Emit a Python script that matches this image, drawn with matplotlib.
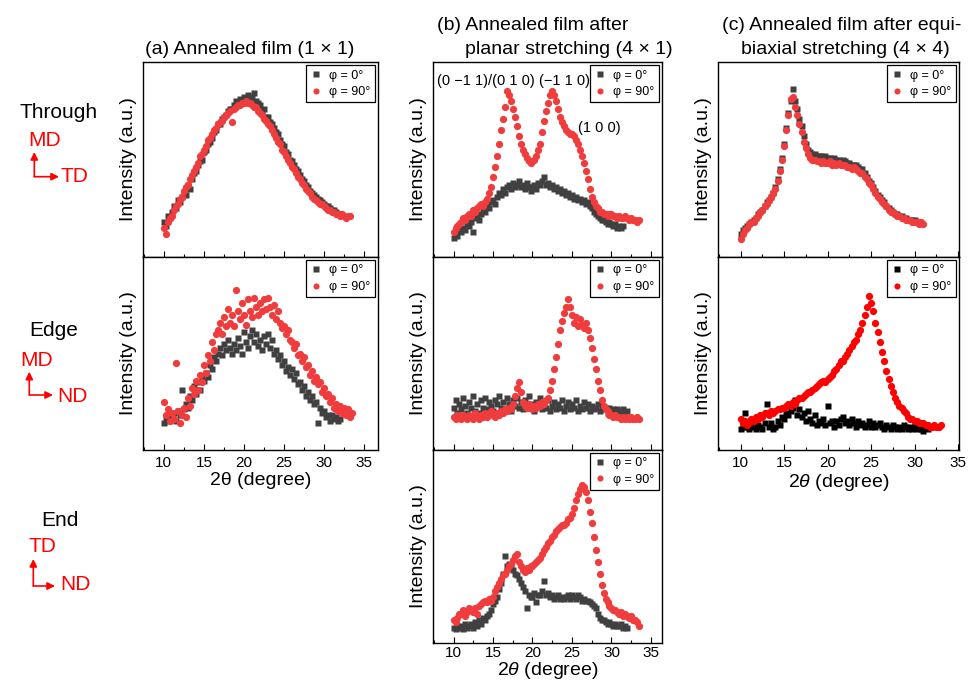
import matplotlib
matplotlib.use("Agg")
import matplotlib.pyplot as plt
from matplotlib.ticker import MultipleLocator

plt.rcParams['font.family'] = ['Liberation Sans', 'DejaVu Sans']
plt.rcParams['mathtext.fontset'] = 'custom'
plt.rcParams['mathtext.rm'] = 'Liberation Sans'
plt.rcParams['mathtext.it'] = 'Liberation Sans:italic'

# 2theta grid (degree), shared by all scans
two_theta = [10.0, 10.25, 10.5, 10.75, 11.0, 11.25, 11.5, 11.75, 12.0, 12.25, 12.5, 12.75,
             13.0, 13.25, 13.5, 13.75, 14.0, 14.25, 14.5, 14.75, 15.0, 15.25, 15.5, 15.75,
             16.0, 16.25, 16.5, 16.75, 17.0, 17.25, 17.5, 17.75, 18.0, 18.25, 18.5, 18.75,
             19.0, 19.25, 19.5, 19.75, 20.0, 20.25, 20.5, 20.75, 21.0, 21.25, 21.5, 21.75,
             22.0, 22.25, 22.5, 22.75, 23.0, 23.25, 23.5, 23.75, 24.0, 24.25, 24.5, 24.75,
             25.0, 25.25, 25.5, 25.75, 26.0, 26.25, 26.5, 26.75, 27.0, 27.25, 27.5, 27.75,
             28.0, 28.25, 28.5, 28.75, 29.0, 29.25, 29.5, 29.75, 30.0, 30.25, 30.5, 30.75,
             31.0, 31.25, 31.5, 31.75, 32.0, 32.25, 32.5, 32.75, 33.0, 33.25, 33.5, 33.75]

# (a) annealed film, through view
a1_phi0 = [18, 16, 21, 20, 23, 26, 25, 29, 28, 31, 33, 32, 37, 35, 40, 43, 44, 47, 49, 50,
           54, 55, 58, 59, 61, 64, 65, 68, 68, 71, 72, 73, 75, 76, 76, 78, 80, 79, 81, 80,
           82, 81, 83, 80, 82, 84, 80, 79, 78, 75, 76, 72, 72, 69, 68, 66, 64, 63, 60, 58,
           57, 54, 53, 50, 49, 47, 45, 44, 42, 40, 39, 37, 36, 34, 33, 32, 31, 30, 29, 28,
           27, 26, 26, 25, 24, 24, 23, 22, 22]
a1_phi90 = [15, 12, 18, 20, 21, 24, 26, 27, 30, 31, 34, 36, 37, 40, 42, 44, 46, 48, 52, 53,
            55, 57, 60, 61, 63, 65, 66, 68, 69, 70, 72, 73, 74, 75, 69, 76, 77, 78, 78, 79,
            79, 80, 79, 79, 78, 77, 77, 75, 74, 73, 71, 70, 68, 67, 65, 63, 61, 59, 58, 55,
            54, 52, 50, 48, 46, 45, 43, 41, 40, 38, 37, 35, 34, 33, 31, 30, 29, 28, 27, 27,
            26, 25, 24, 24, 23, 23, 22, 22, 21, 22, 21, 20, 21, 21]
# (a) edge view
a2_phi0 = [14, 16, 15, 18, 16, 19, 15, 20, 18, 31, 21, 24, 22, 28, 26, 33, 29, 35, 31, 38,
           36, 40, 38, 44, 42, 48, 46, 50, 53, 49, 55, 52, 57, 53, 50, 55, 52, 58, 54, 50,
           61, 56, 53, 59, 62, 56, 60, 54, 57, 52, 59, 55, 60, 53, 57, 50, 52, 47, 49, 44,
           46, 41, 43, 39, 42, 37, 40, 34, 35, 31, 33, 28, 30, 26, 28, 24, 25, 14, 22, 19,
           20, 17, 18, 15, 18, 16, 17, 15, 16]
a2_phi90 = [25, 18, 21, 15, 19, 16, 45, 20, 14, 18, 22, 17, 27, 23, 32, 29, 36, 31, 39, 35,
            44, 40, 49, 46, 56, 52, 60, 62, 66, 60, 69, 64, 73, 66, 70, 64, 83, 72, 68, 76,
            70, 65, 78, 72, 69, 79, 74, 70, 76, 72, 78, 73, 79, 74, 70, 75, 68, 72, 66, 63,
            64, 60, 62, 57, 56, 53, 55, 49, 50, 46, 48, 43, 44, 39, 41, 36, 38, 34, 35, 30,
            32, 28, 29, 25, 27, 22, 24, 20, 23, 19, 22, 18, 21, 17, 19]

# (b) planar stretching: through, edge, end
b1_phi0 = [10, 12, 11, 14, 13, 15, 14, 17, 16, 18, 13, 20, 21, 19, 22, 24, 23, 26, 25, 28,
           29, 27, 31, 33, 32, 35, 33, 36, 37, 35, 38, 36, 37, 39, 36, 37, 35, 38, 36, 34,
           36, 37, 35, 38, 37, 39, 41, 37, 38, 36, 37, 35, 36, 34, 35, 33, 34, 32, 33, 31,
           32, 30, 31, 29, 30, 28, 29, 27, 28, 26, 25, 23, 22, 21, 20, 19, 19, 18, 17, 18,
           17, 16, 17, 15, 16, 15, 16]
b1_phi90 = [13, 15, 16, 17, 18, 20, 19, 21, 22, 21, 24, 23, 25, 26, 27, 26, 28, 30, 33, 36,
            41, 46, 52, 58, 65, 71, 77, 85, 83, 80, 76, 72, 67, 62, 58, 55, 53, 51, 49, 48,
            49, 50, 52, 55, 58, 64, 70, 75, 79, 83, 85, 83, 80, 76, 72, 69, 67, 65, 64, 63,
            63, 62, 60, 58, 55, 52, 48, 44, 40, 35, 31, 28, 26, 25, 23, 23, 22, 22, 21, 22,
            22, 21, 21, 20, 21, 20, 20, 21, 20, 19, 20, 19, 19, 18, 19]
b2_phi0 = [22, 26, 19, 24, 21, 27, 23, 19, 25, 22, 28, 20, 24, 19, 26, 22, 27, 21, 25, 23,
           20, 26, 24, 28, 22, 25, 21, 27, 24, 20, 26, 23, 27, 22, 25, 21, 26, 23, 28, 22,
           24, 20, 25, 23, 27, 21, 24, 22, 26, 20, 23, 25, 21, 24, 22, 26, 20, 23, 25, 21,
           24, 22, 26, 20, 23, 21, 25, 22, 24, 20, 23, 21, 22, 24, 20, 23, 21, 22, 19, 22,
           20, 21, 19, 21, 20, 18, 21, 19, 20]
b2_phi90 = [17, 16, 18, 17, 16, 18, 17, 16, 18, 17, 16, 19, 17, 16, 18, 17, 19, 17, 18, 20,
            18, 17, 19, 18, 20, 19, 21, 20, 22, 21, 24, 28, 32, 35, 30, 25, 23, 22, 24, 22,
            21, 23, 22, 24, 23, 25, 24, 26, 27, 31, 36, 42, 48, 55, 62, 67, 71, 74, 78, 74,
            70, 66, 69, 64, 68, 65, 63, 66, 62, 58, 53, 47, 42, 36, 31, 26, 23, 21, 20, 18,
            18, 17, 18, 17, 17, 16, 17, 16, 17, 16, 17, 16, 16, 17, 16]
b3_phi0 = [8, 7, 9, 8, 9, 7, 10, 8, 9, 10, 8, 11, 9, 12, 10, 13, 12, 14, 15, 17,
           20, 22, 24, 28, 31, 36, 45, 40, 41, 39, 38, 36, 35, 33, 31, 29, 27, 18, 25, 24,
           24, 26, 21, 25, 25, 27, 32, 25, 26, 24, 25, 23, 24, 25, 23, 24, 23, 24, 25, 23,
           25, 24, 23, 25, 24, 22, 23, 22, 22, 21, 20, 19, 18, 15, 13, 12, 12, 11, 10, 11,
           10, 9, 10, 9, 9, 10, 8, 9, 8]
b3_phi90 = [12, 11, 13, 15, 15, 17, 14, 16, 18, 17, 16, 18, 15, 19, 20, 21, 22, 21, 23, 22,
            24, 27, 29, 31, 33, 35, 36, 38, 40, 41, 43, 45, 46, 42, 40, 38, 37, 39, 38, 40,
            40, 41, 42, 43, 44, 46, 48, 50, 52, 53, 55, 56, 58, 59, 60, 61, 61, 62, 64, 65,
            67, 70, 74, 77, 80, 82, 81, 78, 74, 68, 62, 55, 48, 42, 36, 30, 26, 23, 21, 19,
            18, 17, 17, 16, 15, 16, 14, 15, 14, 13, 14, 12, 12, 11, 9]

# (c) equibiaxial stretching: through, edge
c1_phi0 = [12, 14, 15, 16, 17, 18, 19, 20, 22, 23, 24, 26, 28, 29, 31, 33, 36, 40, 45, 51,
           58, 66, 74, 80, 86, 80, 76, 71, 67, 62, 58, 55, 54, 53, 53, 52, 52, 52, 51, 52,
           51, 51, 50, 51, 50, 50, 49, 50, 49, 48, 48, 47, 47, 47, 46, 45, 45, 43, 41, 39,
           38, 36, 34, 32, 31, 29, 28, 26, 25, 24, 23, 22, 22, 21, 21, 20, 20, 19, 19, 19,
           19, 18, 18]
c1_phi90 = [9, 12, 14, 15, 17, 18, 18, 20, 21, 23, 24, 26, 27, 29, 31, 33, 35, 39, 44, 50,
            57, 65, 73, 81, 82, 77, 73, 68, 64, 59, 56, 53, 51, 50, 50, 49, 49, 48, 49, 48,
            48, 49, 47, 48, 47, 48, 47, 47, 47, 46, 46, 45, 46, 45, 44, 43, 43, 41, 40, 38,
            37, 35, 33, 31, 30, 28, 27, 26, 24, 23, 23, 22, 21, 21, 20, 20, 19, 19, 19, 18,
            18, 18, 17, 18, 17]
c2_phi0 = [11, 12, 19, 12, 11, 12, 13, 11, 13, 12, 11, 14, 24, 12, 14, 11, 12, 15, 13, 17,
           16, 19, 18, 20, 22, 26, 18, 21, 17, 19, 15, 20, 16, 14, 18, 13, 15, 14, 16, 13,
           23, 14, 15, 12, 15, 13, 16, 17, 14, 15, 13, 16, 14, 12, 15, 13, 14, 12, 13, 15,
           12, 14, 12, 13, 14, 12, 11, 13, 12, 11, 13, 12, 11, 12, 11, 13, 12, 11, 12, 11,
           13, 11, 12, 11, 10, 12, 11]
c2_phi90 = [16, 14, 15, 13, 14, 16, 15, 17, 16, 18, 17, 19, 19, 18, 20, 19, 20, 21, 21, 22,
            22, 23, 24, 23, 25, 24, 26, 27, 27, 28, 29, 30, 30, 31, 32, 33, 34, 35, 36, 35,
            37, 38, 39, 41, 42, 44, 46, 46, 48, 50, 52, 54, 56, 57, 60, 62, 66, 70, 74, 80,
            76, 72, 66, 61, 56, 51, 46, 41, 37, 33, 30, 27, 25, 23, 22, 20, 19, 17, 16, 16,
            15, 15, 14, 14, 14, 13, 13, 12, 12, 13, 12, 12, 13]

W, H = 975, 684
fig = plt.figure(figsize=(W / 100, H / 100), dpi=100)


def px(x, y):
    # pixel position (from top-left) -> figure fraction
    return x / W, 1 - y / H


def make_ax(left, right, top, bottom, xlim, labels, pad=4):
    ax = fig.add_axes([left / W, 1 - bottom / H, (right - left) / W, (bottom - top) / H])
    ax.set_xlim(*xlim)
    ax.set_ylim(0, 100)
    ax.set_xticks([10, 15, 20, 25, 30, 35])
    ax.xaxis.set_minor_locator(MultipleLocator(2.5))
    ax.tick_params(axis='x', which='both', direction='in', top=False, labelsize=11,
                   labelbottom=labels, pad=pad)
    ax.tick_params(axis='x', which='major', length=4, width=0.8)
    ax.tick_params(axis='x', which='minor', length=2.5, width=0.8)
    ax.tick_params(axis='y', left=False, labelleft=False)
    for s in ax.spines.values():
        s.set_linewidth(1.0)
    ax.set_ylabel('Intensity (a.u.)', fontsize=14, labelpad=4)
    return ax


def draw(ax, y0, y90, c0='#404040', c90='#f03c3c'):
    ax.plot(two_theta[:len(y0)], y0, 's', ms=4.3, color=c0, mec='none', label='φ = 0°')
    ax.plot(two_theta[:len(y90)], y90, 'o', ms=5.2, color=c90, mec='none', label='φ = 90°')
    leg = ax.legend(loc='upper right', fontsize=9, frameon=True, fancybox=False,
                    borderaxespad=0.25, handlelength=0.8, handletextpad=0.7,
                    borderpad=0.35, labelspacing=0.35, markerscale=0.85)
    leg.get_frame().set_edgecolor('black')
    leg.get_frame().set_linewidth(0.9)
    leg.get_frame().set_alpha(1)


rows = [(62, 257), (257, 450), (450, 643)]
xa, xb, xc = (7.4, 36.7), (7.4, 36.4), (7.4, 35.1)

ax_a1 = make_ax(143, 378, *rows[0], xa, False)
ax_a2 = make_ax(143, 378, *rows[1], xa, True)
ax_b1 = make_ax(433, 662, *rows[0], xb, False)
ax_b2 = make_ax(433, 662, *rows[1], xb, False)
ax_b3 = make_ax(433, 662, *rows[2], xb, True, pad=2.5)
ax_c1 = make_ax(718, 959, *rows[0], xc, False)
ax_c2 = make_ax(718, 959, *rows[1], xc, True)

draw(ax_a1, a1_phi0, a1_phi90)
draw(ax_a2, a2_phi0, a2_phi90)
draw(ax_b1, b1_phi0, b1_phi90)
draw(ax_b2, b2_phi0, b2_phi90)
draw(ax_b3, b3_phi0, b3_phi90)
draw(ax_c1, c1_phi0, c1_phi90)
draw(ax_c2, c2_phi0, c2_phi90, c0='black', c90='#ff0000')

ax_a2.set_xlabel('2θ (degree)', fontsize=14, labelpad=2)
ax_b3.set_xlabel(r'2$\it{\theta}$ (degree)', fontsize=14, labelpad=0)
ax_c2.set_xlabel(r'2$\it{\theta}$ (degree)', fontsize=14, labelpad=2)

# peak labels
ax_b1.text(0.229, 0.90, '(0 \u22121 1)/(0 1 0)', transform=ax_b1.transAxes,
           ha='center', va='center', fontsize=10.5)
ax_b1.text(0.574, 0.90, '(\u22121 1 0)', transform=ax_b1.transAxes,
           ha='center', va='center', fontsize=10.5)
ax_b1.text(0.727, 0.662, '(1 0 0)', transform=ax_b1.transAxes,
           ha='center', va='center', fontsize=10.5)

# column titles
fig.text(*px(250, 54), '(a) Annealed film (1 × 1)', fontsize=14, ha='center', va='baseline')
fig.text(*px(437, 30), '(b) Annealed film after', fontsize=14, ha='left', va='baseline')
fig.text(*px(465, 54), 'planar stretching (4 × 1)', fontsize=14, ha='left', va='baseline')
fig.text(*px(722, 30), '(c) Annealed film after equi-', fontsize=14, ha='left', va='baseline')
fig.text(*px(741, 54), 'biaxial stretching (4 × 4)', fontsize=14, ha='left', va='baseline')

# view direction labels on the left
views = [
    ('Through', (59, 113), 'MD', (45, 141), 'TD', (74.5, 176), (34.3, 176.7), 152, 59),
    ('Edge', (54, 331), 'MD', (37, 360), 'ND', (72.5, 396), (29.3, 395), 371.7, 53),
    ('End', (59.5, 520), 'TD', (42.5, 546), 'ND', (75, 584), (33.3, 586), 559, 55),
]
for name, pn, up, pu, right, pr, corner, ytop, xend in views:
    fig.text(*px(*pn), name, fontsize=15, ha='center', va='center')
    fig.text(*px(*pu), up, fontsize=15, ha='center', va='center', color='#ff0000')
    fig.text(*px(*pr), right, fontsize=15, ha='center', va='center', color='#ff0000')
    arrow = dict(arrowstyle='-|>', color='#ff0000', lw=1.2, mutation_scale=11,
                 shrinkA=0, shrinkB=0)
    fig.add_artist(matplotlib.patches.FancyArrowPatch(
        px(*corner), px(corner[0], ytop), transform=fig.transFigure, **arrow))
    fig.add_artist(matplotlib.patches.FancyArrowPatch(
        px(*corner), px(xend, corner[1]), transform=fig.transFigure, **arrow))

fig.savefig('out.png', dpi=100)
